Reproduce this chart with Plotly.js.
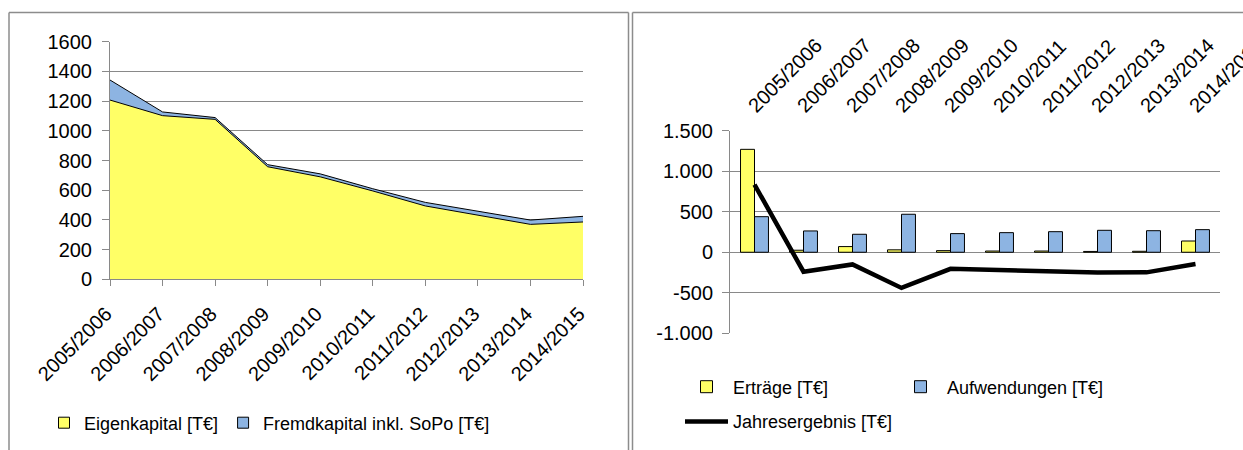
<!DOCTYPE html>
<html><head><meta charset="utf-8">
<script src="https://cdn.plot.ly/plotly-3.0.1.min.js"></script>
<style>html,body{margin:0;padding:0;background:#fff;} #chart{width:1243px;height:450px;}</style>
</head><body><div id="chart"></div>
<script>
const years = ['2005/2006','2006/2007','2007/2008','2008/2009','2009/2010','2010/2011','2011/2012','2012/2013','2013/2014','2014/2015'];
const eigenkapital = [1207, 1102, 1077, 758, 690, 595, 494, 433, 370, 386];
const fremdkapital = [135, 25, 12, 14, 20, 15, 24, 25, 29, 38];
const ertraege = [1270, 25, 70, 30, 20, 15, 15, 10, 12, 139];
const aufwendungen = [439, 263, 222, 469, 230, 242, 254, 271, 266, 279];
const jahresergebnis = [835, -240, -150, -440, -205, -218, -235, -250, -248, -145];
const rightTickVals = [-1000, -500, 0, 500, 1000, 1500];
const rightTickText = ['-1.000', '-500', '0', '500', '1.000', '1.500'];

const YEL = '#FFFF66', BLU = '#8DB4E2', GRID = '#898989';
const W = 1243, H = 450;
const px = v => v / W, py = v => 1 - v / H;
const FONT = 'Liberation Sans, Arial, sans-serif';

const traces = [
  {type:'scatter', x: years, y: eigenkapital, name:'Eigenkapital [T€]', stackgroup:'kap', mode:'lines',
   line:{color:'#000', width:1}, fillcolor: YEL, xaxis:'x', yaxis:'y', showlegend:false, legendgroup:'ek', hoverinfo:'skip'},
  {type:'scatter', x: years, y: fremdkapital, name:'Fremdkapital inkl. SoPo [T€]', stackgroup:'kap', mode:'lines',
   line:{color:'#000', width:1}, fillcolor: BLU, xaxis:'x', yaxis:'y', showlegend:false, legendgroup:'fk', hoverinfo:'skip'},
  // legend swatches for the area series (no data points of their own)
  {type:'scatter', mode:'markers', x:[null], y:[null], name:'Eigenkapital [T€]', legendgroup:'ek',
   marker:{symbol:'square', size:11, color:YEL, line:{color:'#000', width:1}}, xaxis:'x', yaxis:'y', legend:'legend'},
  {type:'scatter', mode:'markers', x:[null], y:[null], name:'Fremdkapital inkl. SoPo [T€]', legendgroup:'fk',
   marker:{symbol:'square', size:11, color:BLU, line:{color:'#000', width:1}}, xaxis:'x', yaxis:'y', legend:'legend'},
  {type:'bar', x: years, y: ertraege, name:'Erträge [T€]', marker:{color: YEL, line:{color:'#000', width:1}},
   xaxis:'x2', yaxis:'y2', legend:'legend2'},
  {type:'bar', x: years, y: aufwendungen, name:'Aufwendungen [T€]', marker:{color: BLU, line:{color:'#000', width:1}},
   xaxis:'x2', yaxis:'y2', legend:'legend2'},
  {type:'scatter', mode:'lines', x: years, y: jahresergebnis, name:'Jahresergebnis [T€]',
   line:{color:'#000', width:4.5}, xaxis:'x2', yaxis:'y2', legend:'legend3'}
];

const border = (x0,y0,x1,y1) => ({type:'line', xref:'paper', yref:'paper', x0:px(x0), y0:py(y0), x1:px(x1), y1:py(y1),
  line:{color:'#8c8c8c', width:1.5}});

const layout = {
  width: W, height: H, margin:{l:0,r:0,t:0,b:0},
  paper_bgcolor:'#fff', plot_bgcolor:'rgba(0,0,0,0)',
  font:{family: FONT, color:'#000', size:18},
  separators: ',.',
  barmode:'group', bargap:0.43, bargroupgap:0,
  xaxis:{domain:[px(110), px(583)], anchor:'y', type:'category', range:[0,9], showgrid:false,
    showline:true, linecolor:GRID, linewidth:1, ticks:'outside', ticklen:6, tickcolor:GRID,
    tickangle:-45, tickfont:{size:20}, ticklabelstandoff:8, ticklabelshift:-4},
  yaxis:{domain:[py(279.3), py(41.7)], anchor:'x', range:[0,1600], dtick:200, gridcolor:GRID, gridwidth:1,
    showline:true, linecolor:GRID, ticks:'outside', ticklen:7, tickcolor:GRID, zeroline:false, tickfont:{size:20},
    ticklabelstandoff:6},
  xaxis2:{domain:[px(730), px(1220)], anchor:'y2', side:'top', type:'category', range:[-0.5,9.5],
    showgrid:false, showline:false, ticks:'', tickangle:-45, tickfont:{size:20}, ticklabelstandoff:9, ticklabelshift:-5},
  yaxis2:{domain:[py(333.3), py(130.7)], anchor:'x2', range:[-1000,1500], tickvals: rightTickVals, ticktext: rightTickText,
    gridcolor:GRID, showline:true, linecolor:GRID, ticks:'outside', ticklen:7, tickcolor:GRID, zeroline:false, tickfont:{size:20},
    ticklabelstandoff:5},
  xaxis3:{overlaying:'x2', anchor:'free', position: py(252.3), type:'linear', range:[-0.5,9.5], tick0:-0.5, dtick:1,
    ticks:'outside', ticklen:6, tickcolor:GRID, showticklabels:false, showline:true, linecolor:GRID, showgrid:false, zeroline:false},
  legend:{orientation:'h', x:px(44), xanchor:'left', y:py(423), yanchor:'middle', font:{size:18},
    traceorder:'normal', bgcolor:'rgba(0,0,0,0)'},
  legend2:{orientation:'h', x:px(680), xanchor:'left', y:py(387), yanchor:'middle', font:{size:18}, entrywidth:156,
    itemwidth:43, traceorder:'normal', bgcolor:'rgba(0,0,0,0)'},
  legend3:{orientation:'h', x:px(680), xanchor:'left', y:py(421.7), yanchor:'middle', font:{size:18},
    itemwidth:43, bgcolor:'rgba(0,0,0,0)'},
  showlegend:true,
  shapes:[
    border(9,12.5,9,450), border(9,12.5,628.5,12.5), border(628.5,12.5,628.5,450),
    border(632.5,12.5,632.5,450), border(632.5,12.5,1243,12.5)
  ]
};

Plotly.newPlot('chart', traces, layout, {displayModeBar:false, staticPlot:true});
</script>
</body></html>
